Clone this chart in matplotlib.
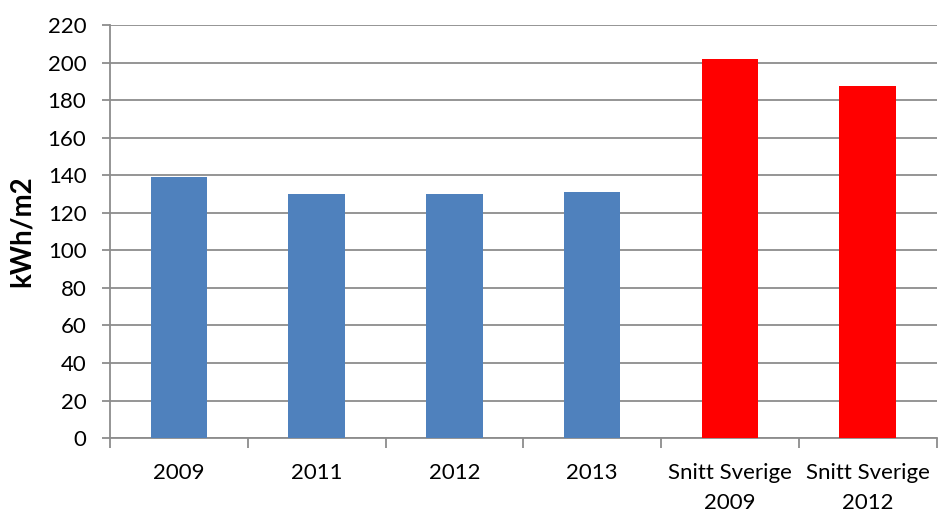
import matplotlib
matplotlib.use("Agg")
import matplotlib.pyplot as plt
from matplotlib.ticker import FixedLocator, NullFormatter

plt.rcParams['font.family'] = ['Lato', 'DejaVu Sans']

categories = ["2009", "2011", "2012", "2013", "Snitt Sverige\n2009", "Snitt Sverige\n2012"]
values = [139, 130, 130, 131, 202, 187.5]
colors = ["#4F81BD", "#4F81BD", "#4F81BD", "#4F81BD", "#FF0000", "#FF0000"]
y_ticks = list(range(0, 221, 20))

fig = plt.figure(figsize=(9.5, 5.16), dpi=100)
ax = fig.add_axes([0.1158, 0.151, 0.870, 0.8006])

x = list(range(len(categories)))
ax.bar(x, values, width=0.41, color=colors, zorder=3)

ax.set_xlim(-0.5, len(categories) - 0.5)
ax.set_ylim(0, 220)
ax.set_yticks(y_ticks)
ax.set_yticklabels([str(v) for v in y_ticks], fontsize=16)
ax.yaxis.grid(True, color="#8c8c8c", linewidth=1.3, zorder=0)
ax.set_axisbelow(True)

ax.set_xticks(x)
ax.set_xticklabels(categories, fontsize=16, linespacing=1.6)
ax.tick_params(axis='x', which='major', length=0, pad=18)
ax.xaxis.set_minor_locator(FixedLocator([i - 0.5 for i in range(len(categories) + 1)]))
ax.xaxis.set_minor_formatter(NullFormatter())
ax.tick_params(axis='x', which='minor', length=7, color="#8c8c8c", width=1.3)
ax.tick_params(axis='y', length=6, color="#8c8c8c", width=1.3, pad=11)

for side in ("top", "right"):
    ax.spines[side].set_visible(False)
for side in ("left", "bottom"):
    ax.spines[side].set_color("#8c8c8c")
    ax.spines[side].set_linewidth(1.3)

ax.set_ylabel("kWh/m2", fontsize=20, fontweight="bold", labelpad=9)

fig.savefig("out.png", dpi=100)
